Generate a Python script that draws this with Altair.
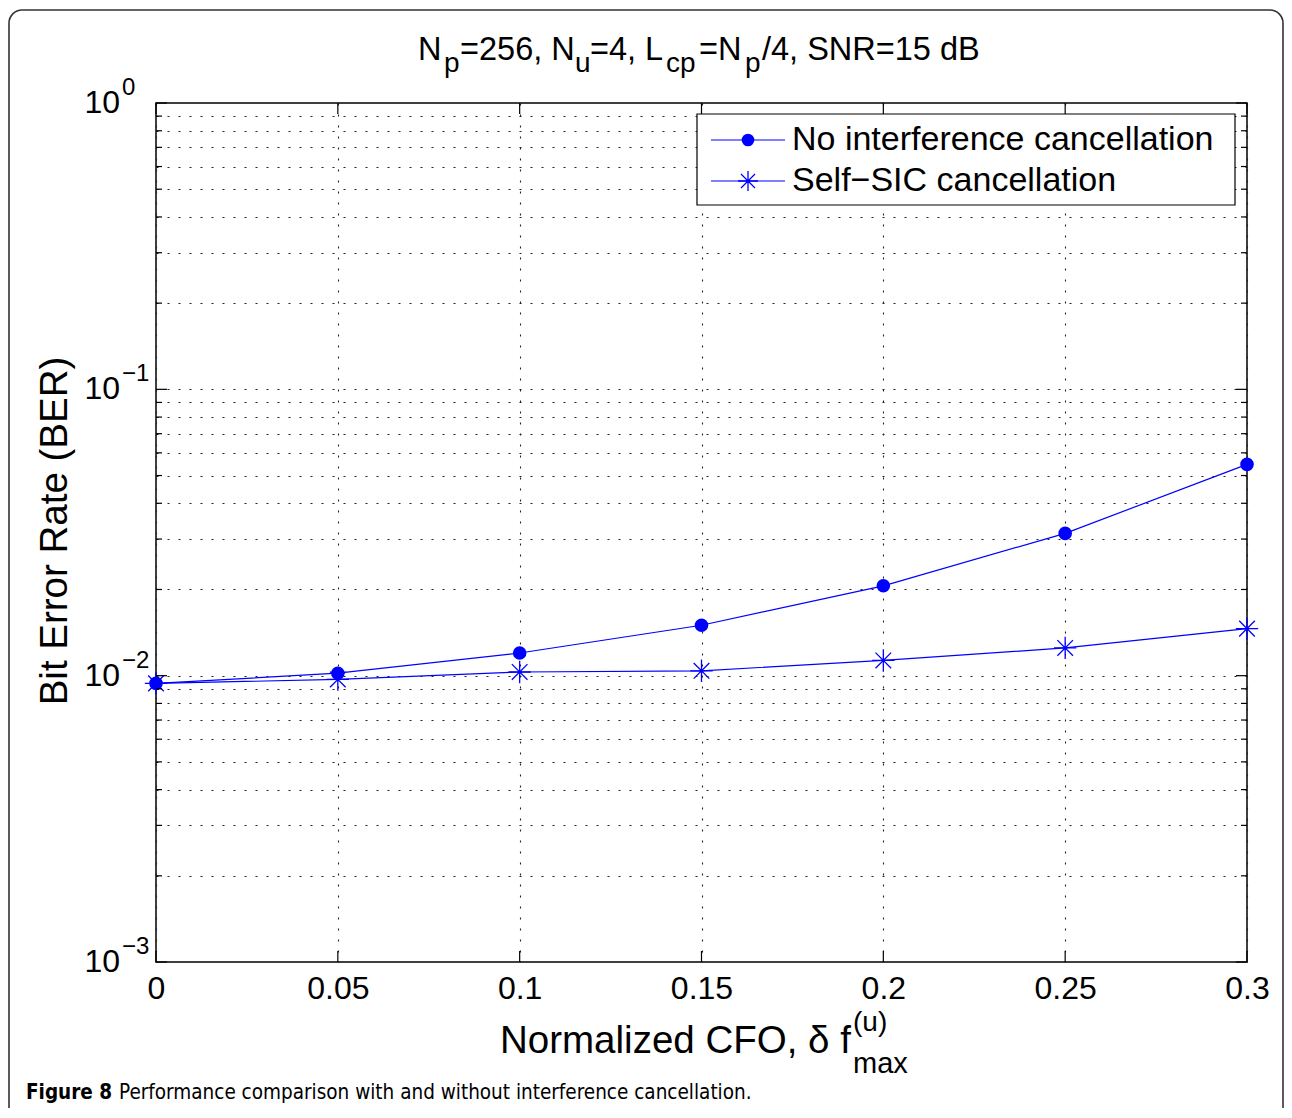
import altair as alt
import pandas as pd

# ---------------- data ----------------
cfo = [0, 0.05, 0.1, 0.15, 0.2, 0.25, 0.3]
ber_no_ic = [0.0094, 0.0102, 0.0120, 0.0150, 0.0206, 0.0314, 0.0547]
ber_self_sic = [0.0094, 0.0097, 0.0103, 0.0104, 0.0113, 0.0125, 0.0146]
series = ["No interference cancellation", "Self\u2212SIC cancellation"]

x_ticks = [0, 0.05, 0.1, 0.15, 0.2, 0.25, 0.3]
y_decades = [0.001, 0.01, 0.1, 1]
y_exponents = ["\u22123", "\u22122", "\u22121", "0"]
y_minor = [m * d for d in [0.001, 0.01, 0.1] for m in range(2, 10)]
y_grid = sorted(y_minor + [0.01, 0.1])

title_parts = ["N", "p", "=256, N", "u", "=4, L", "cp", "=N", "p", "/4, SNR=15 dB"]
xlabel_parts = ["Normalized CFO, \u03b4 f", "(u)", "max"]
ylabel = "Bit Error Rate (BER)"
caption_bold = "Figure 8"
caption_rest = "Performance comparison with and without interference cancellation."

# ---------------- styling ----------------
FONT = "Liberation Sans"
CAP_FONT = "'Liberation Sans Narrow', 'DejaVu Sans Condensed', 'Liberation Sans', sans-serif"
BLUE = "#0000ff"
W, H = 1091, 859

xs = alt.Scale(domain=[0, 0.3], nice=False, zero=False)
ys = alt.Scale(type="log", domain=[0.001, 1], nice=False)
x_axis = alt.Axis(values=x_ticks, format="~g", labelFontSize=32, labelFont=FONT,
                  labelColor="black", labelPadding=11, ticks=False, domain=False,
                  grid=True, gridDash=[2, 9], gridColor="#222222", gridWidth=1.1,
                  labelFlush=False, title="")
y_axis = alt.Axis(values=y_grid, labels=False, ticks=False, domain=False,
                  grid=True, gridDash=[2, 9], gridColor="#222222", gridWidth=1.1,
                  title="")

df = pd.DataFrame({
    "cfo": cfo + cfo,
    "ber": ber_no_ic + ber_self_sic,
    "series": [series[0]] * len(cfo) + [series[1]] * len(cfo),
})
df_no = pd.DataFrame({"cfo": cfo, "ber": ber_no_ic})
df_sic = pd.DataFrame({"cfo": cfo, "ber": ber_self_sic})

X = alt.X("cfo:Q", scale=xs, axis=x_axis)
Y = alt.Y("ber:Q", scale=ys, axis=y_axis)

STAR = "M0,-1L0,1M-1,0L1,0M-0.7,-0.7L0.7,0.7M-0.7,0.7L0.7,-0.7"

lines = alt.Chart(df).mark_line(color=BLUE, strokeWidth=1.2).encode(
    x=X, y=Y, detail="series:N")
circles = alt.Chart(df_no).mark_circle(color=BLUE, size=185, opacity=1).encode(x=X, y=Y)
stars = alt.Chart(df_sic).mark_point(shape=STAR, filled=False, color=BLUE, size=500,
                                     strokeWidth=1.3, opacity=1).encode(x=X, y=Y)

# inward ticks
dfv_dec = pd.DataFrame({"v": y_decades})
dfv_min = pd.DataFrame({"v": y_minor})
dfv_x = pd.DataFrame({"v": x_ticks})
YV = alt.Y("v:Q", scale=ys, axis=y_axis)
XV = alt.X("v:Q", scale=xs, axis=x_axis)
tick_layers = [
    alt.Chart(dfv_dec).mark_rule(color="black", strokeWidth=1.2).encode(y=YV, x=alt.value(0), x2=alt.value(11)),
    alt.Chart(dfv_dec).mark_rule(color="black", strokeWidth=1.2).encode(y=YV, x=alt.value(W - 11), x2=alt.value(W)),
    alt.Chart(dfv_min).mark_rule(color="black", strokeWidth=1.2).encode(y=YV, x=alt.value(0), x2=alt.value(6)),
    alt.Chart(dfv_min).mark_rule(color="black", strokeWidth=1.2).encode(y=YV, x=alt.value(W - 6), x2=alt.value(W)),
    alt.Chart(dfv_x).mark_rule(color="black", strokeWidth=1.2).encode(x=XV, y=alt.value(H - 11), y2=alt.value(H)),
    alt.Chart(dfv_x).mark_rule(color="black", strokeWidth=1.2).encode(x=XV, y=alt.value(0), y2=alt.value(11)),
]

# y tick labels 10^k
dfy_lab = pd.DataFrame({"v": y_decades, "e": y_exponents})
ylab_base = alt.Chart(dfy_lab).mark_text(text="10", align="right", baseline="middle",
                                         fontSize=32, font=FONT, color="black").encode(
    y=YV, x=alt.value(-36))
ylab_exp = alt.Chart(dfy_lab).mark_text(align="left", baseline="middle", dy=-15,
                                        fontSize=24, font=FONT, color="black").encode(
    y=YV, x=alt.value(-34), text="e:N")


def txt(s, x, y, size, align="left", baseline="alphabetic", angle=0, weight="normal", font=FONT):
    return alt.Chart(pd.DataFrame({"t": [s]})).mark_text(
        align=align, baseline=baseline, fontSize=size, font=font, fontWeight=weight,
        angle=angle, color="black").encode(text="t:N", x=alt.value(x), y=alt.value(y))


# title fragments (main / subscript)
MAIN_Y, SUB_Y = -43, -31
MF, SF = 32.5, 28
title_pos = [(262, MAIN_Y, MF), (288, SUB_Y, SF), (304, MAIN_Y, MF), (419, SUB_Y, SF),
             (434, MAIN_Y, MF), (510, SUB_Y, SF), (543, MAIN_Y, MF), (589, SUB_Y, SF),
             (606, MAIN_Y, MF)]
title_layers = [txt(s, x, y, fs) for s, (x, y, fs) in zip(title_parts, title_pos)]

xlabel_layers = [
    txt(xlabel_parts[0], 344, 950, 38.5),
    txt(xlabel_parts[1], 697, 928, 28),
    txt(xlabel_parts[2], 697, 970, 29),
]
ylabel_layer = txt(ylabel, -101, 428, 38.5, align="center", baseline="middle", angle=270)

# legend
one = pd.DataFrame({"a": [0]})
legend_box = alt.Chart(one).mark_rect(fill="white", stroke="black", strokeWidth=1.2).encode(
    x=alt.value(541), x2=alt.value(1079), y=alt.value(11), y2=alt.value(102))
LEG_ROWS = [37, 78]
legend_layers = [legend_box]
for i, r in enumerate(LEG_ROWS):
    legend_layers.append(alt.Chart(one).mark_rule(color=BLUE, strokeWidth=1.2).encode(
        x=alt.value(555), x2=alt.value(629), y=alt.value(r)))
    legend_layers.append(txt(series[i], 636, r, 34, baseline="middle"))
legend_layers.append(alt.Chart(one).mark_circle(color=BLUE, size=160, opacity=1).encode(
    x=alt.value(592), y=alt.value(LEG_ROWS[0])))
legend_layers.append(alt.Chart(one).mark_point(shape=STAR, filled=False, color=BLUE, size=400,
                                               strokeWidth=1.3, opacity=1).encode(
    x=alt.value(592), y=alt.value(LEG_ROWS[1])))

# figure frame + caption
frame = alt.Chart(one).mark_rect(fillOpacity=0, stroke="#333333", strokeWidth=1.6,
                                 cornerRadius=13).encode(
    x=alt.value(-147), x2=alt.value(1127), y=alt.value(-93), y2=alt.value(1040))
cap1 = txt(caption_bold, -130, 996, 20.5, weight="bold", font=CAP_FONT)
cap2 = txt(caption_rest, -37, 996, 20.5, font=CAP_FONT)

chart = alt.layer(
    lines, stars, circles, *tick_layers, ylab_base, ylab_exp,
    *title_layers, *xlabel_layers, ylabel_layer, *legend_layers, frame, cap1, cap2
).properties(
    width=W, height=H,
    autosize=alt.AutoSizeParams(type="none"),
    padding={"left": 148, "top": 95, "right": 37, "bottom": 146},
).configure_view(stroke="black", strokeWidth=1.5)

chart.save("out.html", embed_options={"renderer": "svg", "actions": False})
